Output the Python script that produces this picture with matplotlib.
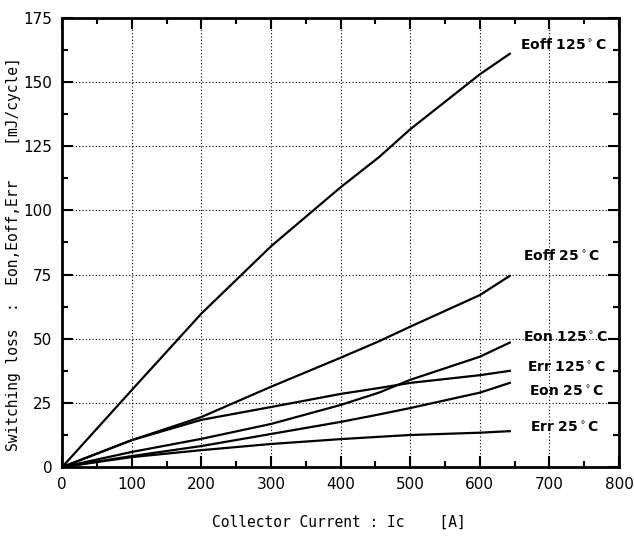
import matplotlib
matplotlib.use("Agg")
from matplotlib import pyplot as plt
from matplotlib.ticker import MultipleLocator

# collector current [A]
ic = [0, 100, 200, 300, 400, 455, 500, 600, 643]

# switching losses [mJ/cycle]
eoff_125 = [0, 30, 59.8, 86, 109, 120.7, 131.6, 153, 161]
eoff_25 = [0, 10.5, 19.5, 31.3, 42.6, 49, 54.7, 67, 74.5]
eon_125 = [0, 5.9, 11, 16.8, 24.2, 29, 34, 43, 48.5]
err_125 = [0, 10.5, 18.4, 23.4, 28.5, 30.8, 32.8, 35.8, 37.5]
eon_25 = [0, 4.3, 8.2, 12.9, 17.6, 20.5, 23, 29, 32.8]
err_25 = [0, 3.9, 6.6, 9, 10.9, 11.8, 12.5, 13.4, 14]

curves = [eoff_125, eoff_25, eon_125, err_125, eon_25, err_25]
labels = ["Eoff 125$^\\circ$C", "Eoff 25$^\\circ$C", "Eon 125$^\\circ$C",
          "Err 125$^\\circ$C", "Eon 25$^\\circ$C", "Err 25$^\\circ$C"]
label_pos = [(658, 164.5), (662, 82.6), (662, 50.3), (667, 38.6),
             (670, 29.2), (672, 15.2)]

fig = plt.figure(figsize=(6.34, 5.4), dpi=100)
ax = fig.add_axes([0.098, 0.135, 0.8785, 0.832])

for y in curves:
    ax.plot(ic, y, color="black", lw=1.6)

for txt, (x, y) in zip(labels, label_pos):
    ax.text(x, y, txt, fontsize=10, fontweight="bold",
            ha="left", va="center")

ax.set_xlim(0, 800)
ax.set_ylim(0, 175)
ax.xaxis.set_major_locator(MultipleLocator(100))
ax.xaxis.set_minor_locator(MultipleLocator(50))
ax.yaxis.set_major_locator(MultipleLocator(25))
ax.yaxis.set_minor_locator(MultipleLocator(12.5))
ax.tick_params(which="both", direction="in", top=True, right=True, width=1.5)
ax.tick_params(which="major", length=8, labelsize=11, pad=7)
ax.tick_params(which="minor", length=4)
for s in ax.spines.values():
    s.set_linewidth(2)
ax.grid(True, which="major", linestyle=(0, (1, 2)), color="black", lw=0.8)

ax.set_xlabel("Collector Current : Ic    [A]", family="DejaVu Sans Mono",
              fontsize=10.5)
ax.set_ylabel("Switching loss  :  Eon,Eoff,Err    [mJ/cycle]",
              family="DejaVu Sans Mono", fontsize=10.5)
ax.xaxis.set_label_coords(0.497, -0.107)
ax.yaxis.set_label_coords(-0.074, 0.474)

fig.savefig("out.png", dpi=100)
